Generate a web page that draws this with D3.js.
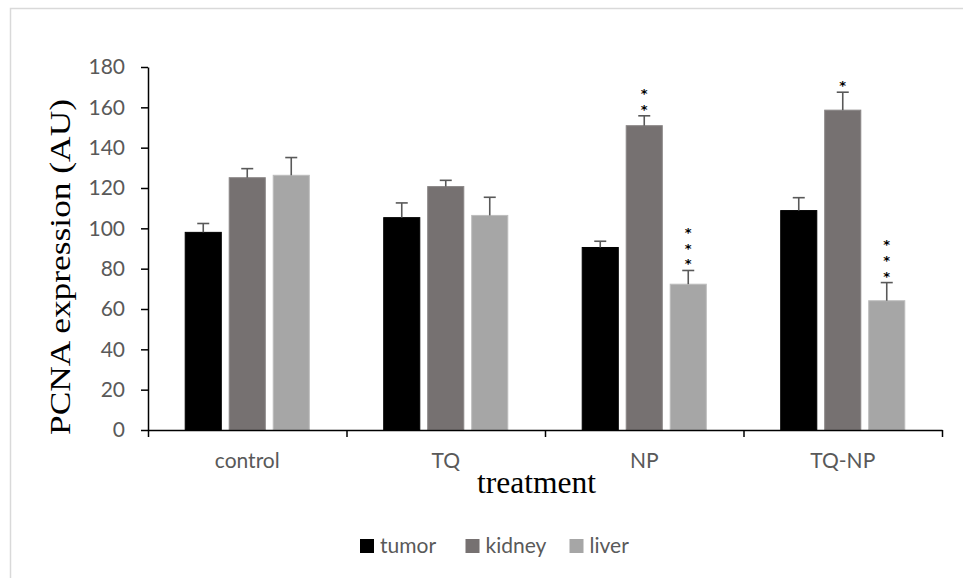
<!DOCTYPE html>
<html>
<head>
<meta charset="utf-8">
<script src="https://cdn.jsdelivr.net/npm/d3@7"></script>
<style>
  body { margin: 0; background: #fff; }
  svg { display: block; }
</style>
</head>
<body>
<div id="chart"></div>
<script>
// data
const treatments = ["control", "TQ", "NP", "TQ-NP"];
const tissues = ["tumor", "kidney", "liver"];
const tumorValues = [98, 105.3, 90.5, 108.8];
const kidneyValues = [125.1, 120.7, 150.9, 158.6];
const liverValues = [126.3, 106.4, 72.3, 64.1];
const tumorErrors = [4.4, 7.3, 3.1, 6.4];
const kidneyErrors = [4.5, 3.1, 4.9, 8.9];
const liverErrors = [8.8, 9.0, 6.8, 9.0];
const tumorStars = [0, 0, 0, 0];
const kidneyStars = [0, 0, 2, 1];
const liverStars = [0, 0, 3, 3];
const yTicks = [0, 20, 40, 60, 80, 100, 120, 140, 160, 180];
const colors = ["#000000", "#767171", "#a6a6a6"];
const edgeColors = ["#000000", "#8a8686", "#bdbdbd"];

const values = [tumorValues, kidneyValues, liverValues];
const errors = [tumorErrors, kidneyErrors, liverErrors];
const stars = [tumorStars, kidneyStars, liverStars];

const W = 963, H = 578;
const margin = { top: 67, right: 21, bottom: 148, left: 148 };
const width = W - margin.left - margin.right;
const height = H - margin.top - margin.bottom;
const labelFont = "Lato, 'Open Sans', sans-serif";
const titleFont = "'Liberation Serif', 'Times New Roman', serif";

// flatten into rows for drawing
let rows = [];
treatments.forEach((t, i) => {
  tissues.forEach((s, j) => {
    rows.push({ treatment: t, tissue: s, value: values[j][i], err: errors[j][i], stars: stars[j][i], k: j });
  });
});

const svg = d3.select("#chart").append("svg")
  .attr("width", W)
  .attr("height", H);

// light frame around the chart area
svg.append("rect")
  .attr("x", 10.5).attr("y", 8.5)
  .attr("width", W + 20).attr("height", H + 20)
  .attr("fill", "none")
  .attr("stroke", "#d9d9d9")
  .attr("stroke-width", 1.5);

const g = svg.append("g")
  .attr("transform", `translate(${margin.left},${margin.top})`);

let x0 = d3.scaleBand().domain(treatments).range([0, width]).padding(0);
let x1 = d3.scaleBand().domain(tissues)
  .range([x0.bandwidth() / 2 - 66, x0.bandwidth() / 2 + 66])
  .paddingInner(0.18).paddingOuter(0.09);
let y = d3.scaleLinear().domain([0, 180]).range([height, 0]);
const cx = d => x0(d.treatment) + x1(d.tissue) + x1.bandwidth() / 2;

// bars
g.selectAll(".bar")
  .data(rows)
  .enter().append("rect")
  .attr("class", "bar")
  .attr("x", d => x0(d.treatment) + x1(d.tissue))
  .attr("y", d => y(d.value))
  .attr("width", x1.bandwidth())
  .attr("height", d => y(0) - y(d.value))
  .attr("fill", d => colors[d.k])
  .attr("stroke", d => edgeColors[d.k])
  .attr("stroke-width", 1);

// error bars (upper only)
const eb = g.selectAll(".err")
  .data(rows)
  .enter().append("g")
  .attr("class", "err")
  .attr("stroke", "#595959")
  .attr("stroke-width", 1.6);
eb.append("line")
  .attr("x1", cx).attr("x2", cx)
  .attr("y1", d => y(d.value))
  .attr("y2", d => y(d.value + d.err));
eb.append("line")
  .attr("x1", d => cx(d) - 6)
  .attr("x2", d => cx(d) + 6)
  .attr("y1", d => y(d.value + d.err))
  .attr("y2", d => y(d.value + d.err));

// significance stars stacked upwards above the error bar
let starRows = [];
rows.forEach(d => {
  for (let s = 0; s < d.stars; s++) starRows.push({ d: d, s: s });
});
g.selectAll(".star")
  .data(starRows)
  .enter().append("text")
  .attr("class", "star")
  .attr("x", r => cx(r.d))
  .attr("y", r => y(r.d.value + r.d.err) - 2 - 15.8 * r.s)
  .attr("text-anchor", "middle")
  .style("font-family", "'DejaVu Sans', sans-serif")
  .style("font-size", "13px")
  .style("font-weight", "bold")
  .attr("fill", "#000")
  .text("*");

// y axis
g.append("g")
  .call(d3.axisLeft(y).tickValues(yTicks).tickSize(7).tickPadding(16).tickSizeOuter(0));
// x axis, ticks on the category boundaries
const xb = d3.scaleLinear().domain([0, treatments.length]).range([0, width]);
g.append("g")
  .attr("transform", `translate(0,${height})`)
  .call(d3.axisBottom(xb).tickValues(d3.range(treatments.length + 1)).tickSize(7).tickFormat("").tickSizeOuter(0));
g.append("g")
  .attr("transform", `translate(0,${height})`)
  .call(d3.axisBottom(x0).tickSize(0).tickPadding(23))
  .call(a => a.select(".domain").remove());

g.selectAll(".domain, .tick line")
  .attr("stroke", "#000")
  .attr("stroke-width", 1.5);
g.selectAll(".tick text")
  .style("font-family", labelFont)
  .style("font-size", "21px")
  .attr("fill", "#595959");

// axis titles
svg.append("text")
  .attr("transform", `translate(70,267) rotate(-90)`)
  .attr("text-anchor", "middle")
  .attr("textLength", 336)
  .attr("lengthAdjust", "spacingAndGlyphs")
  .style("font-family", titleFont)
  .style("font-size", "30px")
  .attr("fill", "#000")
  .text("PCNA expression (AU)");

svg.append("text")
  .attr("x", 536.5).attr("y", 493)
  .attr("text-anchor", "middle")
  .attr("textLength", 119)
  .attr("lengthAdjust", "spacingAndGlyphs")
  .style("font-family", titleFont)
  .style("font-size", "32px")
  .attr("fill", "#000")
  .text("treatment");

// legend
const legendX = [360, 465.5, 569.5];
const legend = svg.selectAll(".legend")
  .data(tissues)
  .enter().append("g")
  .attr("class", "legend")
  .attr("transform", (d, i) => `translate(${legendX[i]},539)`);
legend.append("rect")
  .attr("width", 14).attr("height", 14)
  .attr("fill", (d, i) => colors[i]);
legend.append("text")
  .attr("x", 20).attr("y", 14)
  .style("font-family", labelFont)
  .style("font-size", "21px")
  .attr("fill", "#595959")
  .text(d => d);
</script>
</body>
</html>
